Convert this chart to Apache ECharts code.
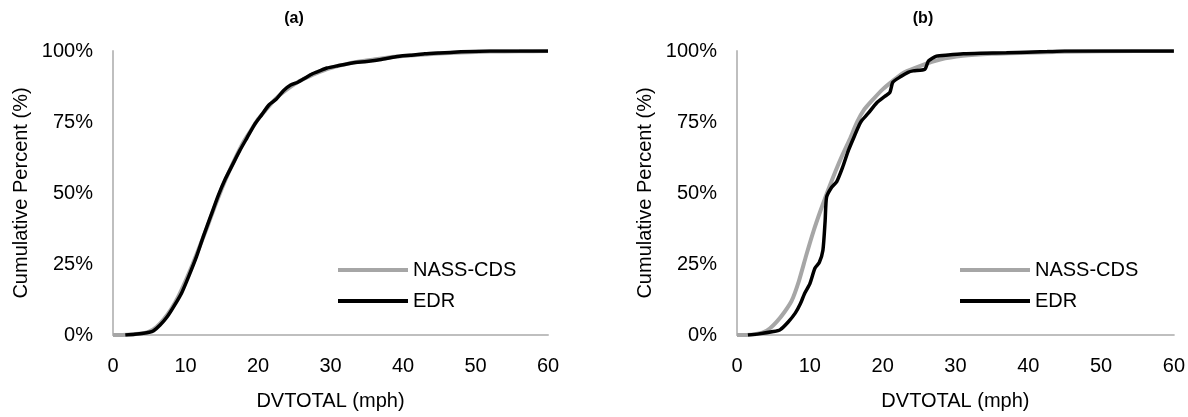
<!DOCTYPE html>
<html>
<head>
<meta charset="utf-8">
<script src="https://cdn.jsdelivr.net/npm/echarts@6/dist/echarts.min.js"></script>
<style>
  html, body { margin: 0; padding: 0; background: #fff; }
  #main { width: 1188px; height: 417px; }
</style>
</head>
<body>
<div id="main"></div>
<script>
// Cumulative percent vs DVTOTAL (mph)
const nassA = [[0,0],[2,0.1],[4,0.5],[5,1.2],[6,2.8],[7,5.5],[8,9],[9,13.5],[10,19],[11,25],[12,31.5],[13,38],[14,45],[15,51.5],[16,57.5],[17,63],[18,68],[19,72],[20,76],[21,79],[22,82],[23,84.5],[24,86.5],[25,88.3],[26,89.8],[27,91],[28,92.1],[29,93.1],[30,94],[32,95.3],[34,96.3],[36,97],[38,97.7],[40,98.2],[42,98.6],[45,99.1],[48,99.5],[52,99.8],[56,99.9],[60,100]];
const edrA = [[1.7,0],[3,0.3],[5,1],[5.6,1.5],[6.5,3.5],[7.5,6.5],[8.5,10.5],[9.5,15],[10.5,21],[11.5,27.5],[12.5,35],[13.5,42],[14.5,49],[15.5,55],[16.5,60],[17.5,65],[18.5,69.5],[19.5,74],[20.5,77.5],[21.5,81],[22.5,83],[23.5,86],[24.5,88],[25.5,89],[26.5,90.5],[27.5,92],[28.5,93],[29.5,94],[31,94.8],[33,95.8],[35,96.3],[37,97],[39,98],[41,98.5],[43,99],[45,99.3],[48,99.7],[52,100],[60,100]];
const nassB = [[0,0],[2,0.1],[3.5,0.8],[4.5,2.3],[5.5,4.8],[6.5,8],[7.5,12],[8.5,19],[9.5,28],[10.5,36.5],[11.5,44],[12.5,51],[13.5,57.5],[14.5,63.5],[15.5,69],[16.5,75],[17.5,79.5],[18.7,83],[20,86.5],[21.4,89.5],[23,92.5],[25.1,94.7],[27.9,97],[31,98.3],[35,99],[40,99.4],[45,99.7],[50,99.9],[60,100]];
const edrB = [[1.5,0],[3,0.4],[5,1.2],[5.9,1.8],[7,4.5],[8,7.7],[8.7,11],[9.3,14.7],[10,18],[10.7,23.5],[11.3,25.5],[11.8,29.8],[12.1,40],[12.3,48.5],[13,52],[13.7,54],[14.5,59],[15.3,65],[16.2,70.5],[16.8,74],[17.1,75.4],[18,78],[19.2,81.8],[20.3,84],[21,85.4],[21.4,89],[22.5,91],[23.5,92.5],[24.2,93],[25.8,93.6],[26.3,96.5],[27.4,98.2],[29,98.6],[31.1,99],[33.4,99.2],[37,99.4],[42.6,99.8],[45,100],[60,100]];

const panelTitles = ['(a)', '(b)'];
const seriesNames = ['NASS-CDS', 'EDR'];
const xTitle = 'DVTOTAL (mph)';
const yTitle = 'Cumulative Percent (%)';

const font = 'Liberation Sans, Arial, sans-serif';
const grids = [
  { left: 113, right: 640, top: 51, height: 284 },
  { left: 737, right: 14, top: 51, height: 284 }
];

const makeX = (i) => ({
  type: 'value', gridIndex: i, min: 0, max: 60, interval: 10,
  name: xTitle, nameLocation: 'middle', nameGap: 56,
  nameTextStyle: { fontSize: 20, color: '#000', fontFamily: font },
  axisLine: { show: true, lineStyle: { color: '#bfbfbf', width: 2 } },
  axisTick: { show: false },
  splitLine: { show: false },
  axisLabel: { fontSize: 20, color: '#000', fontFamily: font, margin: 21 }
});

const makeY = (i) => ({
  type: 'value', gridIndex: i, min: 0, max: 100, interval: 25,
  name: yTitle, nameLocation: 'middle', nameGap: 82,
  nameTextStyle: { fontSize: 20, color: '#000', fontFamily: font },
  axisLine: { show: true, lineStyle: { color: '#bfbfbf', width: 2 } },
  axisTick: { show: false },
  splitLine: { show: false },
  axisLabel: { fontSize: 20, color: '#000', fontFamily: font, margin: 20, formatter: '{value}%' }
});

const line = (name, data, i, color, width) => ({
  name, type: 'line', data, xAxisIndex: i, yAxisIndex: i,
  symbol: 'none', smooth: 0.2, animation: false,
  lineStyle: { color, width }, itemStyle: { color }
});

const makeLegend = (left) => ({
  data: seriesNames, orient: 'vertical', left, top: 260, padding: 0,
  icon: 'rect', itemWidth: 70, itemHeight: 4, itemGap: 11,
  textStyle: { fontSize: 20, color: '#000', fontFamily: font }
});

const chart = echarts.init(document.getElementById('main'));
chart.setOption({
  backgroundColor: '#fff',
  title: [
    { text: panelTitles[0], left: 289, top: 6, textAlign: 'center',
      textStyle: { fontSize: 16, fontWeight: 'bold', color: '#000', fontFamily: font } },
    { text: panelTitles[1], left: 918, top: 6, textAlign: 'center',
      textStyle: { fontSize: 16, fontWeight: 'bold', color: '#000', fontFamily: font } }
  ],
  legend: [makeLegend(338), makeLegend(960)],
  grid: grids,
  xAxis: [makeX(0), makeX(1)],
  yAxis: [makeY(0), makeY(1)],
  series: [
    line(seriesNames[0], nassA, 0, '#a6a6a6', 4),
    line(seriesNames[1], edrA, 0, '#000', 3.5),
    line(seriesNames[0], nassB, 1, '#a6a6a6', 4),
    line(seriesNames[1], edrB, 1, '#000', 3.5)
  ]
});
</script>
</body>
</html>
